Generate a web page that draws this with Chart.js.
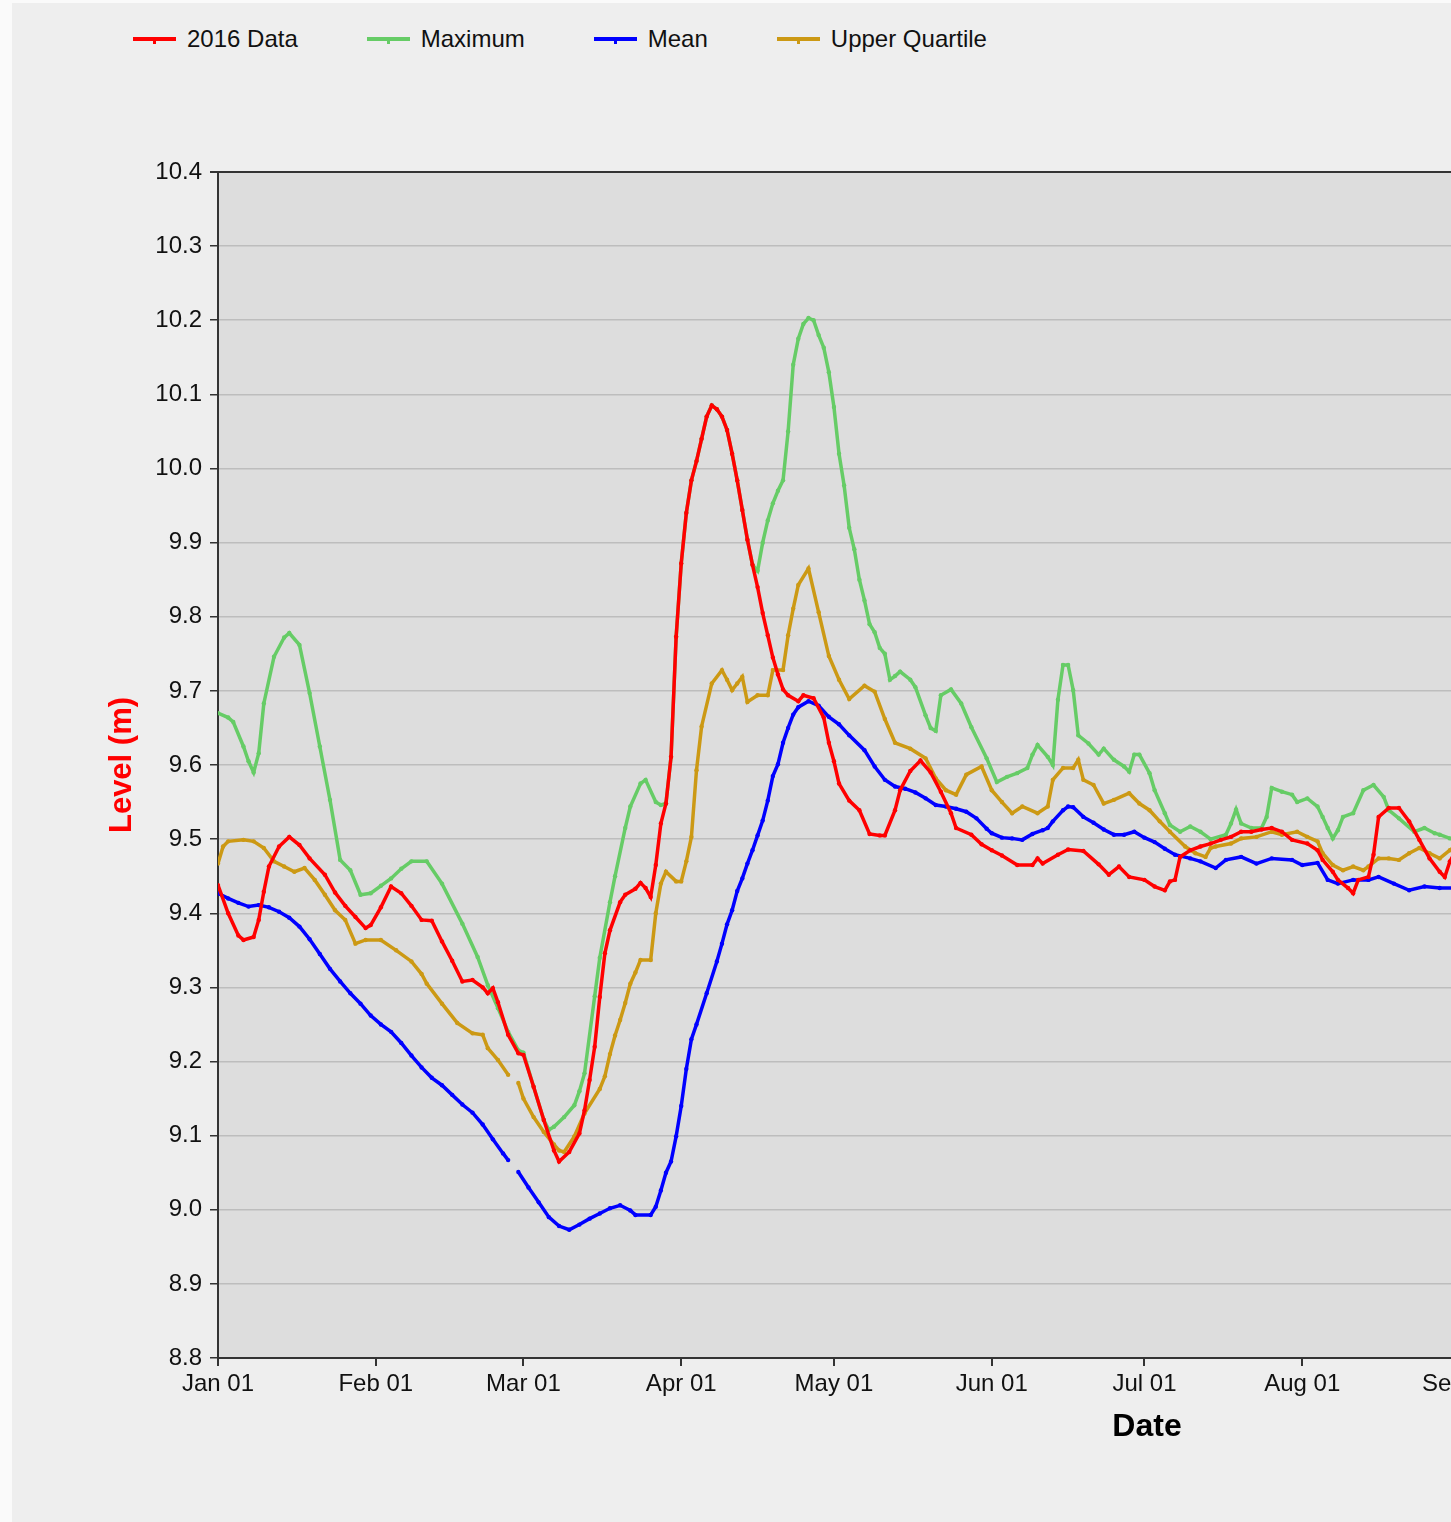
<!DOCTYPE html>
<html>
<head>
<meta charset="utf-8">
<script src="https://cdn.jsdelivr.net/npm/chart.js@4/dist/chart.umd.min.js"></script>
<style>
    html, body { margin: 0; padding: 0; overflow: hidden; background: #fafafa; }
    #frame { position: absolute; left: 12px; top: 3px; width: 1439px; height: 1519px; background: #eeeeee; overflow: hidden; }
    #level-chart { position: absolute; left: 0; top: 0; }
    #level-legend { position: absolute; left: 121px; top: 21px; margin: 0; padding: 0; list-style: none; display: flex;
        font-family: "Liberation Sans", Arial, sans-serif; font-size: 24px; color: #111; }
    #level-legend li { display: flex; align-items: center; margin-right: 69px; height: 30px; }
    #level-legend i { position: relative; display: inline-block; width: 43px; height: 4px; margin-right: 11px; }
    #level-legend i b { position: absolute; left: 20px; top: 2px; width: 3px; height: 5px; }
</style>
</head>
<body>
<div id="frame">
    <ul id="level-legend"></ul>
    <canvas id="level-chart" width="2100" height="1519"></canvas>
</div>
<script>
// month starts (day of year, 2016) and their tick labels
var monthDays = [0, 31, 60, 91, 121, 152, 182, 213, 244, 274, 305, 335];
var monthLabels = ['Jan 01', 'Feb 01', 'Mar 01', 'Apr 01', 'May 01', 'Jun 01',
    'Jul 01', 'Aug 01', 'Sep 01', 'Oct 01', 'Nov 01', 'Dec 01'];

// 2016 Data
var dataDays = [0, 2, 4, 5, 7, 8, 9, 10, 12, 14, 16, 18, 21, 23, 25, 27, 29, 30, 32, 34, 36, 38, 40, 42, 44, 46, 48, 50,
    52, 53, 54, 55, 57, 59, 60, 62, 64, 66, 67, 69, 71, 72, 73, 74, 75, 76, 77, 79, 80, 82, 83, 84, 85, 86, 87, 88,
    89, 90, 91, 92, 93, 94, 95, 96, 97, 98, 99, 100, 101, 102, 103, 104, 105, 106, 107, 108, 109, 110, 111, 112, 114,
    115, 117, 119, 120, 121, 122, 124, 126, 128, 130, 131, 133, 134, 136, 138, 140, 142, 144, 145, 148, 150, 152,
    154, 157, 160, 161, 162, 165, 167, 170, 173, 175, 177, 179, 182, 184, 186, 187, 188, 189, 191, 193, 195, 197,
    199, 201, 203, 205, 207, 209, 211, 214, 216, 217, 219, 220, 222, 223, 224, 226, 227, 228, 230, 232, 234, 236,
    238, 240, 241, 242, 243];
var dataLevels = [9.438, 9.400, 9.370, 9.364, 9.368, 9.391, 9.429, 9.463, 9.490, 9.503, 9.492, 9.474, 9.452, 9.428,
    9.410, 9.395, 9.380, 9.384, 9.408, 9.436, 9.427, 9.410, 9.391, 9.390, 9.362, 9.336, 9.308, 9.310, 9.300, 9.292,
    9.299, 9.280, 9.236, 9.211, 9.209, 9.166, 9.121, 9.080, 9.065, 9.078, 9.103, 9.134, 9.175, 9.220, 9.287, 9.346,
    9.377, 9.415, 9.425, 9.433, 9.441, 9.434, 9.422, 9.465, 9.521, 9.548, 9.611, 9.773, 9.872, 9.940, 9.984, 10.010,
    10.040, 10.070, 10.085, 10.080, 10.070, 10.052, 10.020, 9.984, 9.944, 9.904, 9.870, 9.840, 9.805, 9.775, 9.745,
    9.722, 9.702, 9.694, 9.686, 9.694, 9.690, 9.664, 9.630, 9.605, 9.575, 9.552, 9.539, 9.507, 9.505, 9.505, 9.539,
    9.566, 9.592, 9.606, 9.590, 9.564, 9.535, 9.515, 9.506, 9.493, 9.485, 9.478, 9.465, 9.465, 9.474, 9.467, 9.479,
    9.486, 9.484, 9.466, 9.452, 9.463, 9.449, 9.445, 9.436, 9.431, 9.443, 9.445, 9.476, 9.485, 9.490, 9.494, 9.499,
    9.503, 9.510, 9.510, 9.513, 9.515, 9.510, 9.499, 9.494, 9.485, 9.472, 9.456, 9.445, 9.434, 9.427, 9.445, 9.449,
    9.479, 9.530, 9.542, 9.542, 9.524, 9.499, 9.474, 9.456, 9.449, 9.470, 9.482];

// Maximum
var maxDays = [0, 2, 3, 5, 6, 7, 8, 9, 11, 13, 14, 16, 18, 20, 22, 24, 26, 28, 30, 32, 34, 36, 38, 41, 44, 48, 51, 53,
    55, 57, 59, 60, 62, 64, 65, 66, 68, 70, 71, 72, 74, 75, 77, 78, 80, 81, 83, 84, 86, 87, 88, 89, 90, 91, 92, 93, 94,
    95, 96, 97, 98, 99, 100, 101, 102, 103, 104, 105, 106, 107, 108, 109, 110, 111, 112, 113, 114, 115, 116, 117, 118,
    119, 120, 121, 122, 123, 124, 125, 126, 127, 128, 129, 130, 131, 132, 133, 134, 136, 137, 139, 140, 141, 142, 144,
    146, 148, 151, 153, 155, 157, 159, 160, 161, 163, 164, 165, 166, 167, 168, 169, 171, 173, 174, 176, 178, 179, 180,
    181, 183, 184, 186, 187, 189, 191, 193, 195, 198, 199, 200, 201, 203, 205, 206, 207, 209, 211, 212, 214, 216, 217,
    218, 219, 220, 221, 223, 225, 227, 229, 230, 232, 235, 237, 239, 240, 242, 243];
var maxLevels = [9.670, 9.664, 9.658, 9.625, 9.605, 9.590, 9.616, 9.683, 9.746, 9.772, 9.778, 9.762, 9.697, 9.625,
    9.553, 9.472, 9.458, 9.425, 9.427, 9.437, 9.447, 9.460, 9.470, 9.470, 9.440, 9.386, 9.341, 9.303, 9.272, 9.240,
    9.215, 9.212, 9.166, 9.121, 9.108, 9.112, 9.125, 9.141, 9.160, 9.184, 9.288, 9.340, 9.415, 9.450, 9.515, 9.544,
    9.575, 9.580, 9.550, 9.546, 9.548, 9.611, 9.773, 9.872, 9.940, 9.984, 10.010, 10.040, 10.070, 10.085, 10.080,
    10.070, 10.052, 10.020, 9.984, 9.944, 9.904, 9.870, 9.862, 9.900, 9.930, 9.953, 9.970, 9.984, 10.050, 10.140,
    10.175, 10.195, 10.203, 10.200, 10.180, 10.163, 10.130, 10.083, 10.020, 9.977, 9.920, 9.891, 9.850, 9.822, 9.790,
    9.779, 9.758, 9.750, 9.715, 9.720, 9.726, 9.715, 9.705, 9.667, 9.650, 9.646, 9.694, 9.702, 9.683, 9.651, 9.609,
    9.577, 9.584, 9.589, 9.596, 9.614, 9.627, 9.611, 9.600, 9.688, 9.735, 9.735, 9.701, 9.640, 9.629, 9.614, 9.622,
    9.607, 9.598, 9.591, 9.614, 9.614, 9.589, 9.566, 9.535, 9.519, 9.510, 9.517, 9.510, 9.500, 9.506, 9.521, 9.540,
    9.521, 9.515, 9.515, 9.530, 9.569, 9.564, 9.560, 9.550, 9.555, 9.544, 9.530, 9.515, 9.501, 9.512, 9.530, 9.535,
    9.566, 9.573, 9.557, 9.539, 9.528, 9.510, 9.515, 9.508, 9.506, 9.501, 9.500];

// Mean (no value for the leap day)
var meanDays = [0, 2, 4, 6, 8, 10, 12, 14, 16, 18, 20, 22, 24, 26, 28, 30, 32, 34, 36, 38, 40, 42, 44, 46, 48, 50, 52,
    54, 56, 57, 58, 59, 61, 63, 65, 67, 69, 71, 73, 75, 77, 79, 81, 82, 85, 86, 87, 88, 89, 90, 91, 92, 93, 94, 96, 98,
    99, 100, 101, 102, 103, 104, 105, 106, 107, 108, 109, 110, 111, 112, 113, 114, 116, 118, 120, 122, 124, 127, 129,
    131, 133, 135, 137, 139, 141, 143, 145, 147, 149, 151, 152, 154, 156, 158, 160, 162, 163, 164, 166, 167, 168, 170,
    172, 174, 176, 178, 180, 182, 184, 186, 188, 191, 193, 196, 198, 201, 204, 207, 211, 213, 216, 218, 220, 223, 226,
    228, 231, 234, 237, 240, 243];
var meanLevels = [9.427, 9.420, 9.414, 9.409, 9.411, 9.408, 9.402, 9.394, 9.382, 9.365, 9.345, 9.325, 9.308, 9.292,
    9.278, 9.262, 9.250, 9.240, 9.225, 9.208, 9.192, 9.178, 9.168, 9.155, 9.142, 9.131, 9.115, 9.095, 9.076, 9.067,
    null, 9.051, 9.030, 9.010, 8.990, 8.978, 8.973, 8.980, 8.988, 8.995, 9.002, 9.006, 8.999, 8.993, 8.993, 9.004,
    9.026, 9.050, 9.065, 9.099, 9.140, 9.190, 9.230, 9.250, 9.292, 9.335, 9.359, 9.385, 9.404, 9.430, 9.447, 9.467,
    9.485, 9.505, 9.525, 9.552, 9.585, 9.601, 9.630, 9.650, 9.668, 9.678, 9.686, 9.680, 9.665, 9.655, 9.640, 9.620,
    9.598, 9.580, 9.571, 9.568, 9.563, 9.555, 9.546, 9.544, 9.541, 9.537, 9.528, 9.514, 9.508, 9.502, 9.501, 9.499,
    9.507, 9.512, 9.515, 9.524, 9.539, 9.544, 9.543, 9.530, 9.522, 9.513, 9.506, 9.506, 9.510, 9.502, 9.496, 9.487,
    9.479, 9.474, 9.470, 9.461, 9.472, 9.476, 9.467, 9.474, 9.472, 9.465, 9.468, 9.445, 9.440, 9.445, 9.445, 9.449,
    9.440, 9.431, 9.436, 9.434, 9.434];

// Upper Quartile (no value for the leap day)
var upperDays = [0, 1, 2, 5, 7, 9, 11, 13, 15, 17, 19, 21, 23, 25, 27, 29, 32, 35, 38, 40, 41, 44, 47, 50, 52, 53, 55,
    57, 58, 59, 60, 62, 64, 66, 67, 68, 70, 72, 75, 76, 77, 78, 79, 80, 81, 82, 83, 85, 86, 87, 88, 90, 91, 92, 93, 94,
    95, 97, 99, 100, 101, 102, 103, 104, 106, 108, 109, 111, 112, 113, 114, 116, 118, 120, 122, 124, 127, 129, 131,
    133, 136, 139, 141, 143, 145, 147, 150, 152, 154, 156, 158, 161, 163, 164, 166, 168, 169, 170, 172, 174, 176, 179,
    181, 183, 185, 187, 190, 192, 194, 195, 196, 199, 201, 204, 207, 209, 212, 214, 216, 217, 219, 221, 223, 225, 226,
    228, 230, 232, 234, 236, 238, 240, 242, 243];
var upperLevels = [9.467, 9.490, 9.497, 9.499, 9.497, 9.488, 9.470, 9.463, 9.456, 9.461, 9.445, 9.425, 9.404, 9.391,
    9.359, 9.364, 9.364, 9.350, 9.335, 9.318, 9.305, 9.278, 9.252, 9.238, 9.236, 9.218, 9.202, 9.182, null, 9.171,
    9.150, 9.125, 9.105, 9.088, 9.080, 9.078, 9.099, 9.130, 9.163, 9.180, 9.210, 9.235, 9.256, 9.279, 9.305, 9.320,
    9.337, 9.337, 9.400, 9.440, 9.456, 9.443, 9.443, 9.470, 9.503, 9.593, 9.652, 9.710, 9.728, 9.715, 9.701, 9.710,
    9.719, 9.685, 9.694, 9.694, 9.728, 9.728, 9.775, 9.811, 9.843, 9.865, 9.806, 9.747, 9.715, 9.689, 9.707, 9.699,
    9.662, 9.630, 9.622, 9.609, 9.582, 9.566, 9.560, 9.587, 9.598, 9.566, 9.550, 9.535, 9.544, 9.535, 9.544, 9.580,
    9.596, 9.596, 9.607, 9.580, 9.573, 9.548, 9.553, 9.562, 9.548, 9.539, 9.524, 9.510, 9.490, 9.481, 9.476, 9.488,
    9.490, 9.494, 9.501, 9.503, 9.510, 9.506, 9.510, 9.503, 9.497, 9.481, 9.465, 9.458, 9.463, 9.458, 9.463, 9.474,
    9.474, 9.472, 9.481, 9.488, 9.481, 9.474, 9.485, 9.490];

var seriesColors = ['#ff0000', '#66cc66', '#0000ff', '#cc9914'];

document.addEventListener('DOMContentLoaded', function(){
    renderLevelChart();
}, false);

function toPoints(days, levels) {
    return days.map(function(d, i) {
        return { x: d, y: levels[i] };
    });
}

function makeDataset(label, days, levels, color) {
    return {
        label: label,
        data: toPoints(days, levels),
        borderColor: color,
        backgroundColor: color,
        borderWidth: 3.5,
        pointRadius: 2.2,
        pointBorderWidth: 0,
        pointHoverRadius: 2.2,
        tension: 0,
        spanGaps: false,
        fill: false
    };
}

var plotBackground = {
    id: 'plotBackground',
    beforeDraw: function(chart) {
        var area = chart.chartArea;
        var ctx = chart.ctx;
        ctx.save();
        ctx.fillStyle = '#dddddd';
        ctx.fillRect(area.left, area.top, area.right - area.left, area.bottom - area.top);
        ctx.restore();
    }
};

function renderLevelChart() {
    Chart.defaults.font.family = '"Liberation Sans", Arial, sans-serif';
    Chart.defaults.color = '#111';

    var data = {
        datasets: [
            makeDataset('2016 Data', dataDays, dataLevels, seriesColors[0]),
            makeDataset('Maximum', maxDays, maxLevels, seriesColors[1]),
            makeDataset('Mean', meanDays, meanLevels, seriesColors[2]),
            makeDataset('Upper Quartile', upperDays, upperLevels, seriesColors[3])
        ]
    };

    var chart = new Chart(document.getElementById('level-chart'), {
        type: 'line',
        data: data,
        plugins: [plotBackground],
        options: {
            responsive: false,
            animation: false,
            layout: { padding: { left: 0, top: 169, right: 36, bottom: 64 } },
            plugins: {
                legend: { display: false },
                tooltip: { enabled: false }
            },
            scales: {
                x: {
                    type: 'linear',
                    min: 0,
                    max: 365,
                    afterBuildTicks: function(scale) {
                        scale.ticks = monthDays.map(function(d) { return { value: d }; });
                    },
                    afterFit: function(scale) { scale.height = 100; },
                    ticks: {
                        autoSkip: false,
                        maxRotation: 0,
                        padding: 4,
                        color: '#111',
                        font: { size: 24 },
                        callback: function(value) {
                            return monthLabels[monthDays.indexOf(value)];
                        }
                    },
                    grid: { drawOnChartArea: false, tickLength: 8, color: '#333', lineWidth: 2 },
                    border: { color: '#333', width: 2 },
                    title: {
                        display: true,
                        text: 'Date',
                        color: '#000',
                        font: { size: 32, weight: 'bold' },
                        padding: { top: 0, bottom: 12 }
                    }
                },
                y: {
                    min: 8.8,
                    max: 10.4,
                    afterFit: function(scale) { scale.width = 206; },
                    ticks: {
                        stepSize: 0.1,
                        padding: 8,
                        color: '#111',
                        font: { size: 24 },
                        callback: function(value) { return value.toFixed(1); }
                    },
                    grid: {
                        tickLength: 8,
                        tickColor: '#333',
                        color: function(ctx) {
                            return ctx.tick && Math.abs(ctx.tick.value - 10.4) < 1e-6 ? '#333' : '#bdbdbd';
                        },
                        lineWidth: function(ctx) {
                            return ctx.tick && Math.abs(ctx.tick.value - 10.4) < 1e-6 ? 2 : 1.5;
                        }
                    },
                    border: { color: '#333', width: 2 },
                    title: {
                        display: true,
                        text: 'Level (m)',
                        color: '#ff0000',
                        font: { size: 31, weight: 'bold' },
                        padding: { top: 92, bottom: 0 }
                    }
                }
            }
        }
    });

    generateLegend('level-legend', chart.data.datasets);
}

function generateLegend(id, items) {
    var legend = document.getElementById(id);
    legend.innerHTML = items.map(function(item) {
        var color = item.borderColor;
        return '<li><i style="background:' + color + '"><b style="background:' + color + '"></b></i>' +
            item.label + '</li>';
    }).join('');
}
</script>
</body>
</html>
